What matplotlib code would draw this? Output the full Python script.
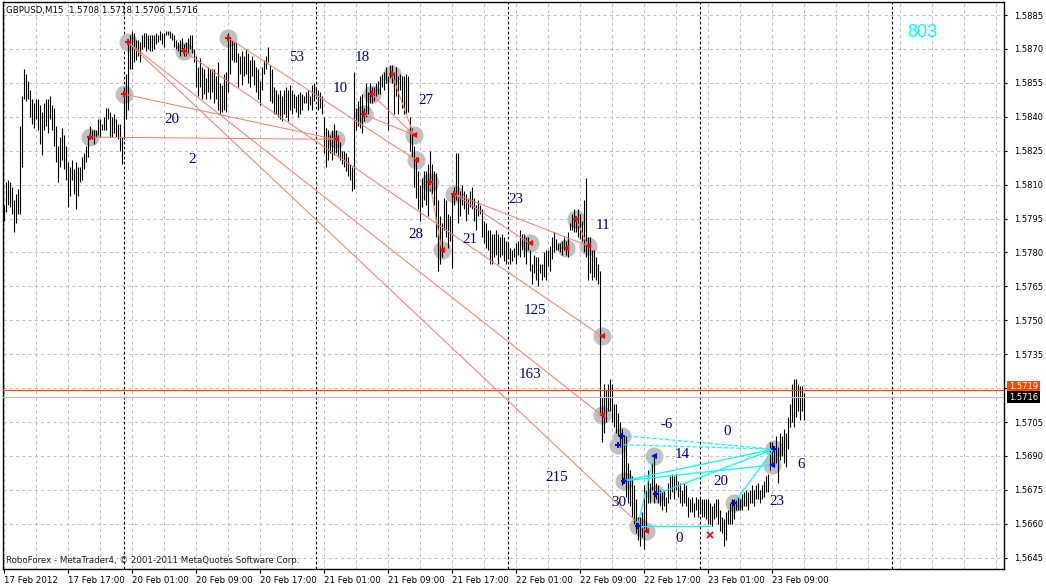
import matplotlib.pyplot as plt
from matplotlib.transforms import blended_transform_factory

# GBPUSD M15 bars, index 0 = 17 Feb 2012 09:00
highs = [
    1.5801, 1.5811, 1.5812, 1.5811, 1.5809, 1.5803, 1.5806, 1.5808, 1.5836, 1.5849,
    1.5861, 1.5859, 1.5856, 1.5852, 1.5848, 1.5846, 1.5848, 1.5848, 1.5845, 1.5842,
    1.5846, 1.5848, 1.5848, 1.5849, 1.5845, 1.5844, 1.5836, 1.5827, 1.5831, 1.5835,
    1.5832, 1.5827, 1.5820, 1.5818, 1.5821, 1.5817, 1.5820, 1.5818, 1.5818, 1.5822,
    1.5824, 1.5827, 1.5831, 1.5836, 1.5834, 1.5834, 1.5834, 1.5839, 1.5839, 1.5837,
    1.5840, 1.5844, 1.5844, 1.5842, 1.5840, 1.5841, 1.5839, 1.5837, 1.5837, 1.5831,
    1.5853, 1.5859, 1.5874, 1.5876, 1.5878, 1.5877, 1.5874, 1.5874, 1.5873, 1.5876,
    1.5877, 1.5877, 1.5876, 1.5876, 1.5876, 1.5876, 1.5877, 1.5876, 1.5878, 1.5877,
    1.5877, 1.5878, 1.5878, 1.5878, 1.5877, 1.5876, 1.5874, 1.5873, 1.5874, 1.5875,
    1.5872, 1.5873, 1.5875, 1.5876, 1.5876, 1.5870, 1.5867, 1.5862, 1.5866, 1.5862,
    1.5861, 1.5857, 1.5862, 1.5861, 1.5861, 1.5861, 1.5858, 1.5864, 1.5855, 1.5854,
    1.5859, 1.5860, 1.5877, 1.5875, 1.5874, 1.5873, 1.5873, 1.5868, 1.5867, 1.5869,
    1.5867, 1.5870, 1.5868, 1.5865, 1.5867, 1.5865, 1.5862, 1.5861, 1.5856, 1.5862,
    1.5865, 1.5867, 1.5871, 1.5863, 1.5861, 1.5853, 1.5852, 1.5850, 1.5852, 1.5849,
    1.5852, 1.5853, 1.5852, 1.5854, 1.5852, 1.5850, 1.5849, 1.5850, 1.5851, 1.5850,
    1.5849, 1.5851, 1.5852, 1.5849, 1.5854, 1.5855, 1.5853, 1.5852, 1.5851, 1.5849,
    1.5840, 1.5835, 1.5834, 1.5832, 1.5834, 1.5837, 1.5834, 1.5832, 1.5829, 1.5825,
    1.5825, 1.5824, 1.5822, 1.5819, 1.5818, 1.5860, 1.5844, 1.5847, 1.5849, 1.5850,
    1.5844, 1.5855, 1.5851, 1.5855, 1.5853, 1.5853, 1.5855, 1.5856, 1.5858, 1.5859,
    1.5860, 1.5862, 1.5858, 1.5863, 1.5863, 1.5860, 1.5862, 1.5858, 1.5859, 1.5858,
    1.5858, 1.5859, 1.5858, 1.5840, 1.5835, 1.5827, 1.5822, 1.5816, 1.5810, 1.5813,
    1.5816, 1.5816, 1.5819, 1.5825, 1.5819, 1.5816, 1.5815, 1.5803, 1.5796, 1.5793,
    1.5804, 1.5803, 1.5797, 1.5796, 1.5806, 1.5809, 1.5824, 1.5824, 1.5807, 1.5810,
    1.5807, 1.5806, 1.5804, 1.5807, 1.5809, 1.5804, 1.5801, 1.5803, 1.5801, 1.5799,
    1.5794, 1.5793, 1.5790, 1.5790, 1.5788, 1.5788, 1.5790, 1.5788, 1.5787, 1.5788,
    1.5787, 1.5785, 1.5784, 1.5782, 1.5781, 1.5782, 1.5784, 1.5785, 1.5790, 1.5788,
    1.5788, 1.5787, 1.5787, 1.5781, 1.5775, 1.5779, 1.5778, 1.5778, 1.5775, 1.5775,
    1.5780, 1.5781, 1.5781, 1.5783, 1.5787, 1.5789, 1.5786, 1.5784, 1.5784, 1.5785,
    1.5787, 1.5785, 1.5789, 1.5793, 1.5797, 1.5799, 1.5796, 1.5799, 1.5797, 1.5794,
    1.5803, 1.5813, 1.5787, 1.5787, 1.5781, 1.5781, 1.5778, 1.5775, 1.5772, 1.5716,
    1.5722, 1.5719, 1.5722, 1.5724, 1.5722, 1.5713, 1.5713, 1.5709, 1.5705, 1.5702,
    1.5699, 1.5699, 1.5687, 1.5684, 1.5681, 1.5677, 1.5671, 1.5663, 1.5663, 1.5665,
    1.5677, 1.5675, 1.5684, 1.5678, 1.5687, 1.5691, 1.5678, 1.5677, 1.5675, 1.5674,
    1.5675, 1.5672, 1.5678, 1.5681, 1.5682, 1.5681, 1.5682, 1.5679, 1.5678, 1.5675,
    1.5678, 1.5677, 1.5672, 1.5671, 1.5672, 1.5669, 1.5672, 1.5671, 1.5672, 1.5671,
    1.5671, 1.5671, 1.5671, 1.5669, 1.5668, 1.5669, 1.5671, 1.5671, 1.5666, 1.5663,
    1.5662, 1.5665, 1.5666, 1.5669, 1.5671, 1.5671, 1.5671, 1.5672, 1.5671, 1.5673,
    1.5674, 1.5675, 1.5674, 1.5675, 1.5677, 1.5675, 1.5677, 1.5678, 1.5675, 1.5677,
    1.5679, 1.5681, 1.5682, 1.5696, 1.5696, 1.5694, 1.5699, 1.5694, 1.5700, 1.5699,
    1.5702, 1.5700, 1.5707, 1.5713, 1.5722, 1.5724, 1.5724, 1.5722, 1.5721, 1.5721,
    1.5718,
]
lows = [
    1.5794, 1.5798, 1.5801, 1.5800, 1.5797, 1.5789, 1.5793, 1.5797, 1.5797, 1.5818,
    1.5848, 1.5847, 1.5848, 1.5840, 1.5837, 1.5835, 1.5839, 1.5834, 1.5828, 1.5823,
    1.5834, 1.5836, 1.5833, 1.5839, 1.5834, 1.5827, 1.5820, 1.5811, 1.5818, 1.5821,
    1.5817, 1.5812, 1.5800, 1.5805, 1.5812, 1.5806, 1.5799, 1.5805, 1.5811, 1.5812,
    1.5817, 1.5820, 1.5822, 1.5830, 1.5830, 1.5828, 1.5831, 1.5832, 1.5831, 1.5834,
    1.5834, 1.5834, 1.5839, 1.5831, 1.5831, 1.5833, 1.5831, 1.5830, 1.5825, 1.5819,
    1.5830, 1.5839, 1.5843, 1.5861, 1.5861, 1.5864, 1.5865, 1.5867, 1.5864, 1.5870,
    1.5871, 1.5869, 1.5870, 1.5869, 1.5869, 1.5870, 1.5872, 1.5873, 1.5874, 1.5872,
    1.5871, 1.5876, 1.5876, 1.5875, 1.5874, 1.5871, 1.5870, 1.5869, 1.5867, 1.5870,
    1.5867, 1.5867, 1.5868, 1.5870, 1.5868, 1.5864, 1.5853, 1.5849, 1.5853, 1.5848,
    1.5850, 1.5848, 1.5851, 1.5848, 1.5851, 1.5846, 1.5848, 1.5843, 1.5841, 1.5842,
    1.5843, 1.5842, 1.5851, 1.5859, 1.5865, 1.5864, 1.5864, 1.5853, 1.5859, 1.5854,
    1.5858, 1.5859, 1.5855, 1.5853, 1.5858, 1.5854, 1.5851, 1.5848, 1.5845, 1.5852,
    1.5859, 1.5861, 1.5864, 1.5847, 1.5846, 1.5841, 1.5841, 1.5840, 1.5839, 1.5838,
    1.5841, 1.5840, 1.5838, 1.5843, 1.5841, 1.5844, 1.5842, 1.5840, 1.5841, 1.5843,
    1.5846, 1.5846, 1.5843, 1.5845, 1.5843, 1.5847, 1.5849, 1.5843, 1.5844, 1.5841,
    1.5824, 1.5818, 1.5821, 1.5824, 1.5821, 1.5823, 1.5824, 1.5822, 1.5821, 1.5819,
    1.5818, 1.5816, 1.5814, 1.5812, 1.5807, 1.5808, 1.5834, 1.5836, 1.5835, 1.5833,
    1.5838, 1.5840, 1.5841, 1.5846, 1.5846, 1.5847, 1.5849, 1.5850, 1.5850, 1.5853,
    1.5852, 1.5855, 1.5834, 1.5857, 1.5855, 1.5841, 1.5849, 1.5841, 1.5852, 1.5844,
    1.5841, 1.5841, 1.5842, 1.5825, 1.5822, 1.5809, 1.5804, 1.5799, 1.5794, 1.5800,
    1.5803, 1.5801, 1.5796, 1.5807, 1.5806, 1.5801, 1.5787, 1.5772, 1.5775, 1.5778,
    1.5790, 1.5787, 1.5782, 1.5785, 1.5773, 1.5801, 1.5803, 1.5793, 1.5796, 1.5801,
    1.5799, 1.5794, 1.5797, 1.5800, 1.5799, 1.5794, 1.5790, 1.5796, 1.5797, 1.5787,
    1.5784, 1.5782, 1.5781, 1.5775, 1.5775, 1.5778, 1.5779, 1.5775, 1.5778, 1.5779,
    1.5776, 1.5775, 1.5778, 1.5775, 1.5776, 1.5778, 1.5775, 1.5779, 1.5778, 1.5781,
    1.5778, 1.5775, 1.5781, 1.5772, 1.5766, 1.5771, 1.5768, 1.5765, 1.5771, 1.5768,
    1.5769, 1.5768, 1.5774, 1.5772, 1.5777, 1.5780, 1.5781, 1.5781, 1.5780, 1.5779,
    1.5781, 1.5779, 1.5778, 1.5790, 1.5790, 1.5789, 1.5789, 1.5787, 1.5786, 1.5785,
    1.5780, 1.5778, 1.5768, 1.5771, 1.5768, 1.5769, 1.5768, 1.5766, 1.5709, 1.5696,
    1.5700, 1.5705, 1.5710, 1.5710, 1.5705, 1.5703, 1.5700, 1.5699, 1.5694, 1.5677,
    1.5679, 1.5672, 1.5669, 1.5668, 1.5663, 1.5660, 1.5656, 1.5653, 1.5650, 1.5654,
    1.5649, 1.5657, 1.5669, 1.5669, 1.5675, 1.5669, 1.5671, 1.5669, 1.5668, 1.5666,
    1.5668, 1.5665, 1.5669, 1.5671, 1.5674, 1.5671, 1.5675, 1.5672, 1.5669, 1.5668,
    1.5669, 1.5668, 1.5663, 1.5665, 1.5665, 1.5663, 1.5666, 1.5663, 1.5665, 1.5663,
    1.5663, 1.5662, 1.5660, 1.5660, 1.5659, 1.5662, 1.5663, 1.5660, 1.5657, 1.5656,
    1.5650, 1.5653, 1.5660, 1.5660, 1.5660, 1.5662, 1.5666, 1.5666, 1.5666, 1.5666,
    1.5668, 1.5668, 1.5666, 1.5669, 1.5669, 1.5668, 1.5671, 1.5671, 1.5669, 1.5671,
    1.5672, 1.5674, 1.5674, 1.5684, 1.5687, 1.5685, 1.5687, 1.5678, 1.5688, 1.5690,
    1.5687, 1.5685, 1.5693, 1.5703, 1.5705, 1.5703, 1.5707, 1.5710, 1.5706, 1.5710,
    1.5706,
]

time_ticks = [0, 32, 64, 96, 128, 160, 192, 224, 256, 288, 320, 352, 384]
time_labels = ['17 Feb 2012', '17 Feb 17:00', '20 Feb 01:00', '20 Feb 09:00',
               '20 Feb 17:00', '21 Feb 01:00', '21 Feb 09:00', '21 Feb 17:00',
               '22 Feb 01:00', '22 Feb 09:00', '22 Feb 17:00', '23 Feb 01:00',
               '23 Feb 09:00']
price_ticks = [1.5645, 1.5660, 1.5675, 1.5690, 1.5705, 1.5720, 1.5735, 1.5750,
               1.5765, 1.5780, 1.5795, 1.5810, 1.5825, 1.5840, 1.5855, 1.5870, 1.5885]
day_breaks = [60, 156, 252, 348, 444]

# swing points (bar, price, marker kind)
red_bar = [62, 60, 43, 90, 112, 166, 180, 184, 194, 205, 206, 213, 225, 219,
           263, 281, 286, 292, 299, 299, 321]
red_price = [1.5873, 1.5850, 1.5831, 1.5869, 1.5875, 1.5830, 1.5841, 1.5850, 1.5859,
             1.5832, 1.5821, 1.5811, 1.5806, 1.5781, 1.5784, 1.5782, 1.5795, 1.5783,
             1.5743, 1.5708, 1.5657]
red_kind = ['+', '+', '+', '+', '+', '<', '+', '+', '+', '<', '<', '+', '+', '<',
            '<', '<', '+', '<', '<', '<', '<']

blue_bar = [309, 307, 310, 317, 325, 326, 365, 385, 384]
blue_price = [1.5699, 1.5695, 1.5679, 1.5659, 1.5690, 1.5673, 1.5669, 1.5693, 1.5686]
blue_kind = ['+', '+', '+', '+', '<', '+', '+', '+', '<']

# red lines: (bar0, price0, bar1, price1)
red_lines = [
    (62, 1.5873, 299, 1.5708),
    (62, 1.5873, 321, 1.5657),
    (60, 1.5850, 166, 1.5830),
    (43, 1.5831, 166, 1.5830),
    (90, 1.5869, 299, 1.5743),
    (112, 1.5875, 206, 1.5821),
    (180, 1.5841, 205, 1.5832),
    (184, 1.5850, 205, 1.5832),
    (194, 1.5859, 205, 1.5832),
    (213, 1.5811, 219, 1.5781),
    (225, 1.5806, 263, 1.5784),
    (225, 1.5806, 292, 1.5783),
    (286, 1.5795, 292, 1.5783),
]
cyan_solid = [
    (310, 1.5679, 385, 1.5693),
    (310, 1.5679, 384, 1.5686),
    (326, 1.5673, 385, 1.5693),
    (365, 1.5669, 385, 1.5693),
    (317, 1.5659, 325, 1.5690),
    (317, 1.5659, 353, 1.5659),
]
cyan_dashed = [
    (309, 1.5699, 385, 1.5693),
    (307, 1.5695, 385, 1.5693),
]

# pip-distance labels (text, bar, price)
pip_text = ['53', '10', '18', '27', '20', '2', '28', '21', '23', '11', '125', '163',
            '215', '-6', '0', '14', '20', '30', '0', '23', '6']
pip_bar = [146.5, 168.5, 179.5, 211, 84, 94, 206, 233, 256, 299.5, 265.5, 263,
           276.5, 331.5, 361.5, 339.5, 358.5, 307.5, 337.5, 386.5, 398.5]
pip_price = [1.5866, 1.58527, 1.5866, 1.58474, 1.58386, 1.58209, 1.57878, 1.57856,
             1.58032, 1.57917, 1.57542, 1.57259, 1.56804, 1.57038, 1.57007, 1.56905,
             1.56786, 1.56693, 1.56534, 1.56698, 1.56861]

fig = plt.figure(figsize=(10.46, 5.86), dpi=100)
ax = fig.add_axes([3 / 1046, 1 - 569 / 586, 1001 / 1046, 567 / 586])
ax.set_xlim(-0.35, 500.15)
ax.set_ylim(1.56400, 1.589075)

grid_kw = dict(color='#c0c0c0', lw=0.75, ls=(0, (3, 3)))
ax.set_xticks(time_ticks)
ax.set_xticklabels(time_labels, ha='left')
ax.set_xticks(range(0, 500, 16), minor=True)
ax.grid(axis='x', which='both', **grid_kw)
ax.set_yticks(price_ticks)
# the 1.5720 label sits under the price boxes, as in the terminal
ax.set_yticklabels(['' if abs(p - 1.5720) < 1e-6 else '%.4f' % p for p in price_ticks])
ax.grid(axis='y', which='major', **grid_kw)
ax.set_axisbelow(True)
ax.yaxis.tick_right()
ax.tick_params(axis='x', which='major', length=3, width=0.8, pad=2, labelsize=6.2)
ax.tick_params(axis='x', which='minor', length=0)
ax.tick_params(axis='y', length=2.5, width=0.8, pad=5, labelsize=6)
for s in ax.spines.values():
    s.set_linewidth(1.0)

for d in day_breaks:
    ax.axvline(d, color='black', lw=0.8, ls=(0, (2.5, 2)), zorder=1)

# circles behind bars
ax.scatter(red_bar, red_price, s=170, color='#c0c0c0', zorder=2, lw=0)
ax.scatter(blue_bar, blue_price, s=170, color='#c0c0c0', zorder=2, lw=0)

ax.vlines(range(len(highs)), lows, highs, color='black', lw=0.8, zorder=3)

# current price lines
ax.axhline(1.5719, color='#ff4500', lw=0.9, zorder=3)
ax.axhline(1.5716, color='#c0c0c0', lw=0.9, zorder=3)

for x0, y0, x1, y1 in red_lines:
    ax.plot([x0, x1], [y0, y1], color='#fa8072', lw=0.75, zorder=4)
for x0, y0, x1, y1 in cyan_solid:
    ax.plot([x0, x1], [y0, y1], color='#00ffff', lw=0.9, zorder=4)
for x0, y0, x1, y1 in cyan_dashed:
    ax.plot([x0, x1], [y0, y1], color='#00ffff', lw=0.9, ls=(0, (3, 2)), zorder=4)

for xs, ys, ks, col in [(red_bar, red_price, red_kind, 'red'),
                        (blue_bar, blue_price, blue_kind, 'blue')]:
    for x, y, k in zip(xs, ys, ks):
        m = 'P' if k == '+' else '<'
        ax.plot(x, y, marker=m, ms=5, color=col, mew=0, zorder=5)

ax.plot(353, 1.5655, marker='x', ms=4, color='red', mew=1.2, zorder=5)

for t, x, y in zip(pip_text, pip_bar, pip_price):
    ax.text(x, y, t, family='Liberation Serif', fontsize=10.8, color='#000080',
            ha='center', va='center', zorder=6)

ax.text(0.918, 0.947, '803', transform=ax.transAxes, family='Liberation Sans',
        fontsize=13, color='#00ffff', ha='center', va='center')

tr = blended_transform_factory(ax.transAxes, ax.transData)
ax.text(1.005, 1.57205, '1.5719', transform=tr, fontsize=6, color='white',
        va='center', ha='left', clip_on=False, zorder=7,
        bbox=dict(boxstyle='square,pad=0.2', fc='#ff4500', ec='none'))
ax.text(1.005, 1.5716, '1.5716', transform=tr, fontsize=6, color='white',
        va='center', ha='left', clip_on=False, zorder=8,
        bbox=dict(boxstyle='square,pad=0.2', fc='black', ec='none'))

fig.text(6 / 1046, 1 - 10 / 586, 'GBPUSD,M15  1.5708 1.5718 1.5706 1.5716',
         fontsize=6.2, va='center', ha='left')
ax.text(0.003, 0.015, 'RoboForex - MetaTrader4, \u00a9 2001-2011 MetaQuotes Software Corp.',
        transform=ax.transAxes, fontsize=6.2, color='#202020', va='center', ha='left')

fig.savefig('out.png', dpi=100)
